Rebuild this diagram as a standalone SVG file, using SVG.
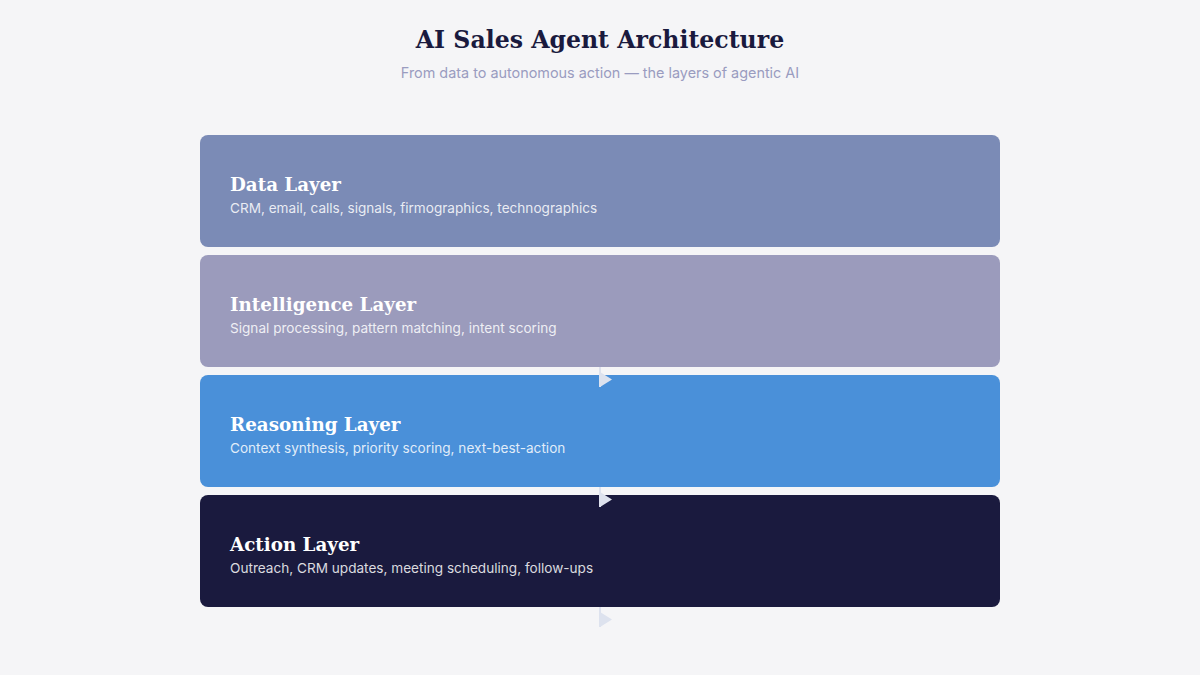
<svg xmlns="http://www.w3.org/2000/svg" width="1200" height="675" viewBox="0 0 1200 675">
  <defs>
    <style>
      .title { font-family: "DejaVu Serif", "Liberation Serif", serif; font-weight: bold; font-size: 23.6px; fill: #1a1a3e; }
      .sub { font-family: Inter, "Liberation Sans", sans-serif; font-size: 14.4px; fill: #9a9cc0; }
      .lt { font-family: "DejaVu Serif", "Liberation Serif", serif; font-weight: bold; font-size: 18.3px; fill: #ffffff; }
      .ld { font-family: Inter, "Liberation Sans", sans-serif; font-size: 13.6px; fill: #ffffff; fill-opacity: 0.85; }
      .conn { stroke: #dde2ee; stroke-width: 2; fill: none; }
      .head { fill: #dde2ee; }
    </style>
  </defs>
  <rect width="1200" height="675" fill="#f5f5f7"/>
  <g id="header">
    <text class="title" x="600" y="48" text-anchor="middle">AI Sales Agent Architecture</text>
    <text class="sub" x="600" y="78" text-anchor="middle">From data to autonomous action — the layers of agentic AI</text>
  </g>
  <g id="data-layer">
    <rect x="200" y="135" width="800" height="112" rx="8" fill="#7b8bb6"/>
    <text class="lt" x="230" y="191">Data Layer</text>
    <text class="ld" x="230" y="213">CRM, email, calls, signals, firmographics, technographics</text>
  </g>
  <g id="intelligence-layer">
    <rect x="200" y="255" width="800" height="112" rx="8" fill="#9b9bbc"/>
    <text class="lt" x="230" y="311">Intelligence Layer</text>
    <text class="ld" x="230" y="333">Signal processing, pattern matching, intent scoring</text>
  </g>
  <g id="reasoning-layer">
    <rect x="200" y="375" width="800" height="112" rx="8" fill="#4a90d9"/>
    <text class="lt" x="230" y="431">Reasoning Layer</text>
    <text class="ld" x="230" y="453">Context synthesis, priority scoring, next-best-action</text>
  </g>
  <g id="action-layer">
    <rect x="200" y="495" width="800" height="112" rx="8" fill="#1a1a3e"/>
    <text class="lt" x="230" y="551">Action Layer</text>
    <text class="ld" x="230" y="573">Outreach, CRM updates, meeting scheduling, follow-ups</text>
  </g>
  <g id="connectors">
    <line class="conn" x1="600" y1="367" x2="600" y2="387"/>
    <polygon class="head" points="600,372 612,379.5 600,387"/>
    <line class="conn" x1="600" y1="487" x2="600" y2="507"/>
    <polygon class="head" points="600,492 612,499.5 600,507"/>
    <line class="conn" x1="600" y1="607" x2="600" y2="627"/>
    <polygon class="head" points="600,612 612,619.5 600,627"/>
  </g>
</svg>
